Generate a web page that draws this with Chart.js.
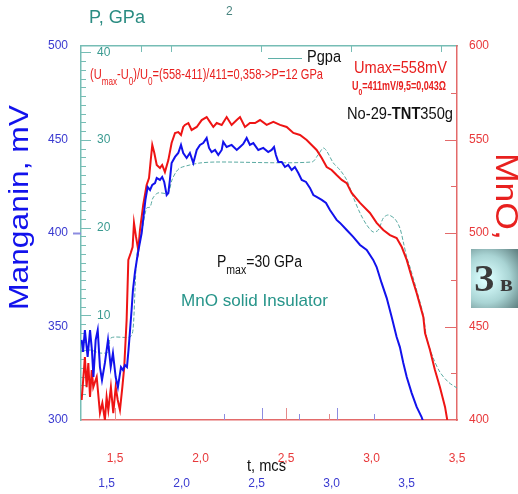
<!DOCTYPE html>
<html>
<head>
<meta charset="utf-8">
<script src="https://cdn.jsdelivr.net/npm/chart.js@4.4.0/dist/chart.umd.min.js"></script>
<style>
  html, body { margin: 0; padding: 0; background: #fff; }
  canvas { display: block; }
</style>
</head>
<body>
<canvas id="chart" width="518" height="494"></canvas>
<script>
// time, mcs (red time scale) and manganin signal, mV
const tBlue = [1.305,1.313,1.324,1.340,1.354,1.365,1.374,1.387,1.399,1.412,
  1.424,1.441,1.459,1.475,1.488,1.504,1.517,1.535,1.547,1.558,
  1.570,1.579,1.588,1.597,1.605,1.617,1.634,1.656,1.669,1.678,
  1.691,1.705,1.718,1.734,1.744,1.763,1.776,1.788,1.802,1.812,
  1.821,1.831,1.851,1.870,1.886,1.899,1.919,1.938,1.958,1.978,
  1.997,2.016,2.036,2.050,2.065,2.085,2.104,2.124,2.133,2.153,
  2.182,2.212,2.231,2.250,2.270,2.289,2.309,2.338,2.367,2.396,
  2.416,2.430,2.441,2.455,2.475,2.494,2.513,2.533,2.552,2.572,
  2.592,2.617,2.640,2.660,2.679,2.709,2.734,2.757,2.777,2.796,
  2.816,2.855,2.893,2.933,2.972,3.010,3.030,3.059,3.089,3.118,
  3.147,3.166,3.186,3.206,3.235,3.264,3.293,3.303];
const mvBlue = [342.8,336.4,348.1,333.7,348.1,337.4,323.0,342.8,348.1,328.3,
  321.4,330.5,342.8,328.3,335.8,323.0,317.6,328.3,326.7,329.4,
  328.3,337.4,348.1,358.8,369.5,379.2,389.3,400.0,410.7,417.7,
  424.6,423.0,425.7,426.7,429.4,428.4,430.0,427.3,420.3,421.4,
  428.4,437.4,440.7,442.8,447.1,442.8,440.1,442.8,437.4,444.4,
  447.1,448.1,450.8,445.5,443.3,444.4,441.7,444.4,448.7,446.0,
  447.1,444.4,446.0,447.6,450.8,447.1,448.1,444.4,445.5,443.3,
  444.4,446.0,441.7,438.0,438.0,435.3,436.4,433.7,435.3,432.1,
  428.4,427.3,424.1,420.3,419.3,417.7,416.1,412.3,409.6,407.0,
  405.4,401.6,397.9,393.6,390.9,385.6,381.8,373.3,365.2,355.1,
  344.4,339.0,330.5,323.0,314.4,307.0,301.6,298.9];

// MnO gauge signal, mV (right axis)
const tRed = [1.305,1.314,1.324,1.334,1.344,1.354,1.364,1.373,1.393,1.412,
  1.426,1.441,1.451,1.461,1.476,1.490,1.504,1.516,1.529,1.543,
  1.554,1.562,1.568,1.573,1.578,1.592,1.603,1.611,1.623,1.636,
  1.646,1.665,1.685,1.699,1.709,1.718,1.730,1.744,1.763,1.776,
  1.792,1.812,1.831,1.851,1.870,1.886,1.899,1.909,1.929,1.948,
  1.978,2.007,2.036,2.055,2.075,2.095,2.124,2.153,2.182,2.212,
  2.231,2.260,2.289,2.319,2.348,2.387,2.426,2.465,2.504,2.543,
  2.582,2.621,2.650,2.679,2.709,2.738,2.767,2.796,2.826,2.855,
  2.884,2.933,2.991,3.030,3.069,3.108,3.147,3.177,3.206,3.235,
  3.264,3.303,3.313,3.342,3.371,3.400,3.430,3.443];
const mvRed = [410.7,421.4,433.7,417.6,430.5,412.3,426.7,417.6,423.0,403.7,
  409.1,400.0,412.3,405.3,417.6,403.7,417.6,410.7,405.3,417.6,
  428.3,442.8,453.5,469.5,485.6,489.3,492.5,505.4,497.9,490.9,
  501.6,515.0,525.7,529.4,539.0,547.1,542.8,536.4,534.8,536.4,
  532.6,539.0,548.1,553.5,554.0,552.4,556.7,557.8,558.8,555.1,
  556.7,560.4,562.0,559.4,556.7,558.8,557.8,562.0,557.8,560.4,
  562.0,556.7,558.8,558.8,560.4,557.8,559.4,557.8,556.7,553.5,
  552.4,549.7,547.1,544.4,540.1,535.3,533.7,531.0,528.4,526.7,
  521.4,516.1,510.7,505.4,501.6,498.9,497.3,492.5,485.6,476.5,
  467.9,455.1,446.5,437.4,426.7,417.6,407.0,400.0];

// pressure, GPa
const tP = [1.301,1.354,1.412,1.459,1.476,1.588,1.605,1.617,1.628,1.646,
  1.664,1.685,1.705,1.722,1.751,1.809,1.833,1.857,1.880,1.938,
  1.997,2.090,2.650,2.687,2.718,2.738,2.777,2.816,2.855,2.893,
  2.933,2.972,3.010,3.040,3.069,3.098,3.137,3.166,3.186,3.206,
  3.225,3.264,3.303,3.323,3.361,3.400,3.449,3.500];
const pGpa = [5.82,6.04,5.70,5.82,7.41,7.53,8.32,12.88,16.88,18.59,
  20.30,22.23,22.35,23.38,23.95,23.95,25.43,26.34,26.80,27.14,
  27.37,27.48,27.48,28.28,29.08,28.73,27.37,26.57,25.43,23.49,
  21.66,20.30,19.50,19.73,21.09,21.44,20.98,19.95,18.36,16.65,
  15.51,12.88,10.03,7.41,5.13,3.53,2.39,1.71];

// tick labels
const tTicks = [1.5, 2.0, 2.5, 3.0, 3.5];
const mvLeftTicks = [300, 350, 400, 450, 500];
const mvRightTicks = [400, 450, 500, 550, 600];
const pTicks = [10, 20, 30, 40];

// small marks on the frame
const redTimeMarks = [1.5, 2.5, 2.75];
const blueTimeMarks = [2.25, 2.5, 2.75, 3.0, 3.25];
const topMarks = [0.67, 1, 2, 3, 4];
const rightMarks = [425, 450, 475, 500, 525, 550, 575];

const FONT = '"Liberation Sans", Arial, sans-serif';
Chart.defaults.font.family = FONT;

const BLUE = '#1212ec';
const RED = '#ee1414';
const TEAL = '#2b8c82';
const TEAL_AXIS = '#76bdb5';
const RED_AXIS = '#e36a6a';

function pts(xs, ys) {
  return xs.map((x, i) => ({x: x, y: ys[i]}));
}
function fixTicks(values) {
  return (s) => { s.ticks = values.map(v => ({value: v})); };
}
const comma = v => v.toFixed(1).replace('.', ',');
const noGrid = {display: false, drawTicks: false};

// text with optional bold (B) / subscript (s) / serif (S) pieces, fitted to a width
function drawText(ctx, parts, x, y, size, color, width, rot) {
  ctx.save();
  ctx.translate(x, y);
  if (rot) ctx.rotate(rot);
  const fontOf = st => (st.includes('B') ? 'bold ' : '') +
    (st.includes('s') ? Math.round(size * 0.72) : size) + 'px ' + (st.includes('S') ? '"Liberation Serif", serif' : FONT);
  let total = 0;
  parts.forEach(([t, st]) => { ctx.font = fontOf(st); total += ctx.measureText(t).width; });
  if (width) ctx.scale(width / total, 1);
  ctx.fillStyle = color;
  ctx.textBaseline = 'middle';
  ctx.textAlign = 'left';
  let cx = 0;
  parts.forEach(([t, st]) => {
    ctx.font = fontOf(st);
    ctx.fillText(t, cx, st.includes('s') ? size * 0.45 : 0);
    cx += ctx.measureText(t).width;
  });
  ctx.restore();
}

const frameMarks = {
  id: 'frameMarks',
  beforeDatasetsDraw(chart) {
    const {ctx, chartArea: a, scales: s} = chart;
    ctx.save();
    ctx.lineWidth = 1;
    const line = (x1, y1, x2, y2, c) => {
      ctx.strokeStyle = c;
      ctx.beginPath(); ctx.moveTo(x1, y1); ctx.lineTo(x2, y2); ctx.stroke();
    };
    for (let v = 1; v <= 40; v++) {
      const y = Math.round(s.yP.getPixelForValue(v)) + 0.5;
      line(a.left, y, a.left + (v % 10 ? 5 : 10), y, TEAL_AXIS);
    }
    rightMarks.forEach(v => {
      const y = Math.round(s.yR.getPixelForValue(v)) + 0.5;
      line(a.right, y, a.right - (v % 50 ? 6 : 12), y, RED_AXIS);
    });
    topMarks.forEach(v => {
      const x = Math.round(s.xT.getPixelForValue(v)) + 0.5;
      line(x, a.top, x, a.top + 6, TEAL_AXIS);
    });
    redTimeMarks.forEach(v => {
      const x = Math.round(s.x.getPixelForValue(v)) + 0.5;
      line(x, a.bottom, x, a.bottom - (v % 0.5 ? 6 : 12), '#e68a8a');
    });
    blueTimeMarks.forEach(v => {
      const x = Math.round(s.xB.getPixelForValue(v)) + 0.5;
      line(x, a.bottom, x, a.bottom - (v % 0.5 ? 6 : 12), '#8c8ce0');
    });
    const y400 = Math.round(s.yL.getPixelForValue(400)) + 0.5;
    ctx.lineWidth = 2;
    line(a.left - 8, y400, a.left, y400, '#8c8ce0');
    ctx.restore();
  }
};

const notes = {
  id: 'notes',
  afterDraw(chart) {
    const ctx = chart.ctx;
    drawText(ctx, [['P, GPa', '']], 89, 18, 18, TEAL, 56);
    drawText(ctx, [['2', '']], 226, 12, 12, '#4a8580');

    ctx.save();
    ctx.strokeStyle = '#5fb0a8'; ctx.lineWidth = 1;
    ctx.beginPath(); ctx.moveTo(268, 58.5); ctx.lineTo(302, 58.5); ctx.stroke();
    ctx.restore();
    drawText(ctx, [['Pgpa', '']], 307, 58, 16, '#111', 34);

    drawText(ctx, [['(U', ''], ['max', 's'], ['-U', ''], ['0', 's'], [')/U', ''], ['0', 's'],
      ['=(558-411)/411=0,358->P=12 GPa', '']], 90, 75, 15, '#e8201f', 233);
    drawText(ctx, [['Umax=558mV', '']], 354, 68, 17, '#e8201f', 93);
    drawText(ctx, [['U', 'B'], ['0', 'Bs'], ['=411mV/9,5=0,043\u03A9', 'B']], 352, 87, 12, '#e8201f', 94);
    drawText(ctx, [['No-29-', ''], ['TNT', 'B'], ['350g', '']], 347, 114, 17, '#111', 106);

    drawText(ctx, [['P', ''], ['max', 's'], ['=30 GPa', '']], 217, 263, 16, '#111', 85);
    drawText(ctx, [['MnO solid Insulator', '']], 181, 301, 17, '#27958a', 147);
    drawText(ctx, [['t, mcs', '']], 247, 467, 16, '#111', 39);

    drawText(ctx, [['Manganin, mV', '']], 21, 310, 27, BLUE, 205, -Math.PI / 2);
    drawText(ctx, [['MnO, mV', '']], 505, 153, 31, '#e8201f', 150, Math.PI / 2);

    // pasted slide badge on the right edge
    ctx.save();
    const g = ctx.createRadialGradient(486, 279, 4, 486, 279, 44);
    g.addColorStop(0, '#d8fdfd');
    g.addColorStop(0.5, '#a9d4d4');
    g.addColorStop(1, '#5b7b7c');
    ctx.fillStyle = g;
    ctx.fillRect(471, 249, 47, 59);
    ctx.restore();
    drawText(ctx, [['\u0417', 'BS']], 474, 281, 38, '#3b3b3b');
    drawText(ctx, [['\u0432', 'BS']], 500, 285, 24, '#3b3b3b');
  }
};

new Chart(document.getElementById('chart'), {
  type: 'line',
  data: {
    datasets: [
      {label: 'Manganin', data: pts(tBlue, mvBlue), xAxisID: 'x', yAxisID: 'yL',
        borderColor: BLUE, borderWidth: 2, pointRadius: 0, tension: 0},
      {label: 'MnO', data: pts(tRed, mvRed), xAxisID: 'x', yAxisID: 'yR',
        borderColor: RED, borderWidth: 2, pointRadius: 0, tension: 0},
      {label: 'Pgpa', data: pts(tP, pGpa), xAxisID: 'x', yAxisID: 'yP',
        borderColor: '#5aaaa2', borderWidth: 1, borderDash: [4, 2], pointRadius: 0, tension: 0.3}
    ]
  },
  options: {
    responsive: false,
    animation: false,
    layout: {padding: 0},
    plugins: {legend: {display: false}, tooltip: {enabled: false}},
    scales: {
      x: {
        type: 'linear', position: 'bottom', weight: 0, min: 1.3012, max: 3.5,
        afterBuildTicks: fixTicks(tTicks),
        afterFit: s => { s.height = 50; },
        grid: noGrid,
        border: {color: RED_AXIS, width: 1.5},
        ticks: {color: '#e8393b', font: {size: 12}, padding: 31, maxRotation: 0, autoSkip: false, callback: comma}
      },
      xB: {
        type: 'linear', position: 'bottom', weight: 1, min: 1.2953, max: 3.802,
        afterBuildTicks: fixTicks(tTicks),
        afterFit: s => { s.height = 24; },
        grid: noGrid,
        border: {display: false},
        ticks: {color: '#3a3ad0', font: {size: 12}, padding: 6, labelOffset: -5, maxRotation: 0, autoSkip: false, callback: comma}
      },
      xT: {
        type: 'linear', position: 'top', min: 0, max: 4.178,
        afterFit: s => { s.height = 46; },
        grid: noGrid,
        border: {color: TEAL_AXIS, width: 1.5},
        ticks: {display: false}
      },
      yL: {
        type: 'linear', position: 'left', weight: 1, min: 300, max: 500,
        afterBuildTicks: fixTicks(mvLeftTicks),
        afterFit: s => { s.width = 81; },
        grid: noGrid,
        border: {display: false},
        ticks: {color: '#3a3ad0', font: {size: 12}, padding: 13}
      },
      yP: {
        type: 'linear', position: 'left', weight: 0, min: -1.94, max: 40.71,
        afterBuildTicks: fixTicks(pTicks),
        afterFit: s => { s.width = 0; },
        grid: noGrid,
        border: {color: TEAL_AXIS, width: 1.5},
        ticks: {color: '#3a9a90', font: {size: 12}, mirror: true, padding: 16}
      },
      yR: {
        type: 'linear', position: 'right', min: 400, max: 600,
        afterBuildTicks: fixTicks(mvRightTicks),
        afterFit: s => { s.width = 61; },
        grid: noGrid,
        border: {color: RED_AXIS, width: 1.5},
        ticks: {color: '#e8393b', font: {size: 12}, padding: 12}
      }
    }
  },
  plugins: [frameMarks, notes]
});
</script>
</body>
</html>
